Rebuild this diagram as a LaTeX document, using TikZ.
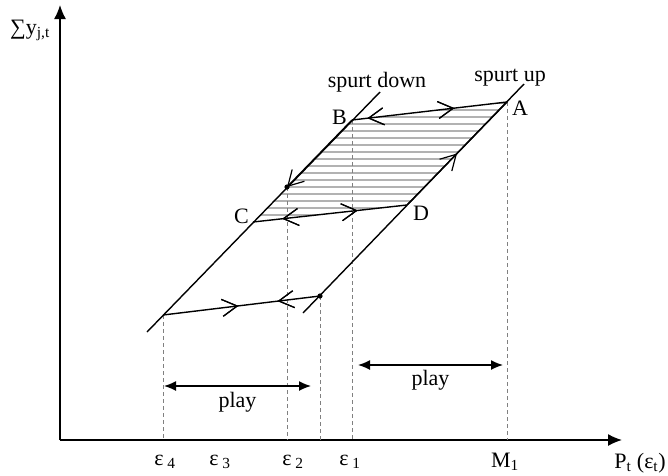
\documentclass[tikz,border=0pt]{standalone}
\usepackage{fontspec}
\setmainfont{Liberation Serif}
\usepackage{tikz}
\usetikzlibrary{arrows.meta,positioning,calc,decorations.markings}
\begin{document}
\begin{tikzpicture}[x=1pt,y=-1pt,
  lab/.style={font=\fontsize{22}{24}\selectfont,inner sep=1pt},
  axis/.style={line width=1.4pt,-{Latex[length=14pt,width=12pt]}},
  branch/.style={line width=1.4pt},
  guide/.style={gray,line width=0.8pt,dash pattern=on 4pt off 3pt},
  hatch/.style={gray!60,line width=1.1pt},
  span/.style={line width=1.4pt,{Latex[length=12pt,width=10pt]}-{Latex[length=12pt,width=10pt]}},
  fwd/.style={postaction={decorate},decoration={markings,mark=at position #1 with {\arrow[line width=1.2pt]{Straight Barb[length=15pt,width=17pt]}}}},
  bwd/.style={postaction={decorate},decoration={markings,mark=at position #1 with {\arrowreversed[line width=1.2pt]{Straight Barb[length=15pt,width=17pt]}}}}]
\useasboundingbox (0,0) rectangle (668,475);
% axes
\coordinate (O) at (60,440); \coordinate (ytop) at (60,5); \coordinate (xend) at (622,440);
\draw[axis] (O) -- (ytop); \draw[axis] (O) -- (xend);
\node[lab] (ylab) at (30,30) {∑y\textsubscript{j,t}};
\node[lab] (xlab) at (640,463) {P\textsubscript{t} (ε\textsubscript{t})};
% corner points of the two branches
\coordinate (Dtop) at (380,92); \coordinate (B) at (352,120); \coordinate (Cdot) at (287,187);
\coordinate (C) at (253,222); \coordinate (L) at (163,315); \coordinate (Dbot) at (147,332);
\coordinate (Utop) at (524,84); \coordinate (A) at (507,102); \coordinate (D) at (407,205);
\coordinate (Udot) at (320,296); \coordinate (Ubot) at (303,313);
% hatched band
\begin{scope}
\clip (A) -- (B) -- (C) -- (D) -- cycle;
\foreach \y in {103,110,...,225} \draw[hatch] (240,\y) -- (520,\y);
\end{scope}
% guides down to the price axis
\foreach \p in {L,Cdot,Udot,B,A} \draw[guide] (\p) -- (\p |- O);
% spurt lines
\draw[branch] (Dbot) -- (Dtop); \draw[branch] (Ubot) -- (Utop);
\draw[branch,fwd=1] (B) -- (Cdot); \draw[branch,fwd=0.5] (D) -- (A);
\draw[branch,fwd=0.66,bwd=0.10] (B) -- (A);
\draw[branch,fwd=0.68,bwd=0.19] (C) -- (D);
\draw[branch,fwd=0.48,bwd=0.73] (L) -- (Udot);
\fill (Cdot) circle (2.6); \fill (Udot) circle (2.6);
% labels
\node[lab,anchor=east] (lB) at ($(B)+(-4,-3)$) {B}; \node[lab,anchor=west] (lA) at ($(A)+(4,6)$) {A};
\node[lab,anchor=east] (lC) at ($(C)+(-3,-6)$) {C}; \node[lab,anchor=west] (lD) at ($(D)+(5,8)$) {D};
\node[lab,anchor=south] (sdown) at ($(Dtop)+(-3,1)$) {spurt down};
\node[lab,anchor=south] (sup) at ($(Utop)+(-14,3)$) {spurt up};
% play intervals
\coordinate (p1l) at (164,386); \coordinate (p1r) at (311,386);
\coordinate (p2l) at (358,365); \coordinate (p2r) at (503,365);
\draw[span] (p1l) -- node[lab,below=5pt] (play1) {play} (p1r);
\draw[span] (p2l) -- node[lab,below=4pt] (play2) {play} (p2r);
% price labels
\node[lab] (e4) at (165,462) {ε\,\textsubscript{4}}; \node[lab] (e3) at (220,462) {ε\,\textsubscript{3}};
\node[lab] (e2) at (293,462) {ε\,\textsubscript{2}}; \node[lab] (e1) at (350,462) {ε\,\textsubscript{1}};
\node[lab] (m1) at (505,462) {M\textsubscript{1}};
\end{tikzpicture}
\end{document}
